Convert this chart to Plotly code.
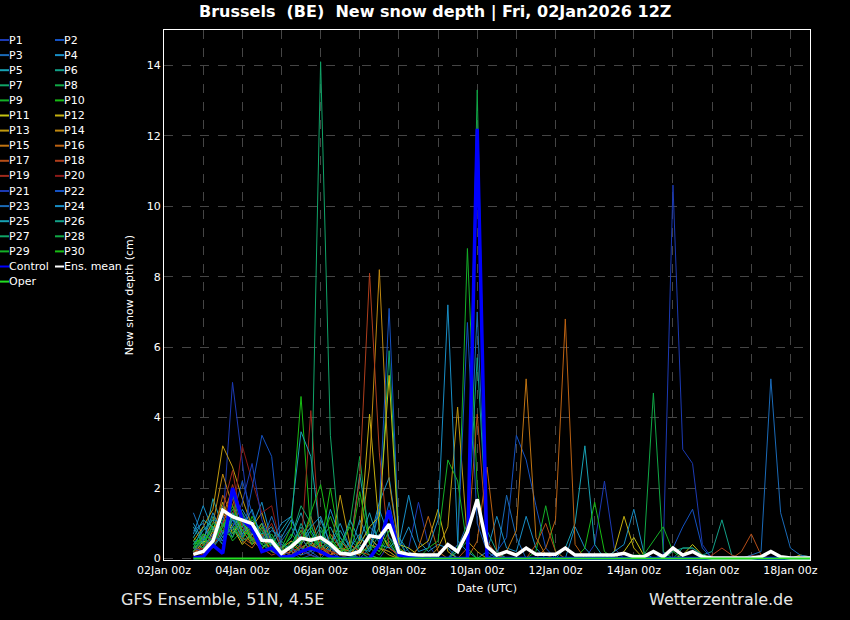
import pandas as pd
import plotly.graph_objs as go

# 6-hourly steps, 02Jan 18z .. 18Jan 12z
times = pd.date_range('2026-01-02 18:00', periods=64, freq='6h')

p01 = [0.4,0.8,1.1,1.0,5.0,2.8,0.5,0.9,0.3,0.1,0.2,0,0.1,0,0.3,0,
       0,0.2,0,0,0.4,0,0.3,1.6,0.4,0,0,0,0,0,0,0,
       0,0,0,0,0,0,0,0,0,0.4,2.2,0.3,0,0,0,0,
       0,0,0,0,0,0,0,0,0,0,0,0,0,0,0,0]
p02 = [0.2,0.5,0.9,0.6,1.2,2.2,1.3,0.6,0.4,0.1,0,0.2,0.1,0,0,0,
       0,0,0.3,1.5,7.1,0.6,0,0,0,0,0,0,0,0,0,0.2,
       0.6,3.5,2.8,1.5,0.3,0,0,0,0,0,0,0,0,0,0,0,
       0,0,0,0,0,0,0,0,0,0,0,0,0,0,0,0]
p03 = [1.3,0.6,0.3,0.7,1.8,1.0,0.7,0.4,0.2,0.5,0.9,0.3,0.1,0.4,0.2,0,
       0,0.4,0.9,0.6,1.2,0.2,0,0,0,0,0,0.3,1.0,7.0,0.4,0,
       1.8,0.6,0,0,0,0,0,0,0,0,0,0,0,0,0,0,
       0,0,0,0,0,0,0,0,0,0,0,0,0,0,0,0]
p04 = [0.7,1.5,0.8,1.2,0.6,1.4,0.9,1.6,0.5,1.0,1.2,0.4,0.8,0.3,1.4,0.6,
       0.2,1.1,0.5,1.6,2.3,0.4,1.8,0.5,0.2,0.4,0.3,0,0,0,0.2,1.2,
       0.3,0.2,1.2,0.3,0,0,0,0.9,0.3,0,0,0,0,0,0,0,
       0,0,0,0,0,0,0,0,0,0,0,0,0,0,0,0]
p05 = [0.9,0.4,1.7,0.9,1.3,0.8,1.0,0.7,0.9,0.3,0.6,1.3,0.5,1.1,0.4,0.8,
       0.3,2.4,0.6,0.3,1.0,0.2,0.1,0,0,0,0,0,0,0,0,0,
       0,0,0,0,0,0,0.3,1.0,3.2,0.4,0,0,0,0,0,0,
       0,0,0,0,0,0,0,0,0,0,0,0,0,0,0,0]
p06 = [0.3,0.9,0.6,1.5,0.8,1.0,0.5,0.3,0.6,0.2,0.4,0.9,0.3,0.6,0.2,0.1,
       0.5,0.3,0.2,0.7,0.4,0.1,0,0,0,0,0,0,0,0,0,0,
       0,0,0,0,0,0,0,0,0,0,0,0,0,0,0,0,
       0,0,0.3,0.3,0.1,0.2,1.1,0.1,0,0,0,0,0,0,0,0]
p07 = [0.5,0.3,1.2,0.7,1.9,0.6,1.1,0.8,0.3,0.4,0.2,0.7,1.0,0.2,0.5,0.1,
       0,0.6,0.3,0.9,5.9,0.5,0,0,0,0,0,0,0,0,0,0,
       0,0,0,0,0,0,0,0,0,0,0,0,0,0,0,0,
       0,0,0,0,0,0,0,0,0,0,0,0,0,0,0,0]
p08 = [0.2,0.7,0.5,0.9,1.4,0.7,0.9,0.4,0.2,0.1,0.5,0.3,0.2,0.8,0.3,0.2,
       1.0,2.9,0.4,0.2,0.6,0.1,0,0,0,0,0,0.2,0.5,13.3,0.3,0.1,
       0,0,0,0,0,0,0,0,0,0,0,0,0,0,0,0,
       0,0,0,0,0,0,0,0,0,0,0,0,0,0,0,0]
p09 = [0.6,0.4,0.9,1.1,0.5,0.8,0.6,0.4,0.7,0.2,0.3,0.5,0.9,0.4,0.6,0.2,
       0.3,0.1,0.4,0.3,0.2,0,0,0,0,0,0,0.3,8.8,2.0,0.2,0,
       0,0,0,0.2,1.5,0.2,0,0,0,0,0,0,0,0,0,0,
       0,0,0,0,0,0,0,0,0,0,0,0,0,0,0,0]
p10 = [0.4,0.6,0.3,0.8,1.0,0.5,1.2,0.6,0.4,0.3,0.9,4.6,0.7,0.3,2.0,0.4,
       0.1,0.2,0.3,0.1,0.5,0,0,0,0,0,0,0,0,0,0,0,
       0,0,0,0,0,0,0,0,0.3,1.6,0.2,0,0,0,0,0,
       0,0,0,0,0,0,0,0,0,0,0,0,0,0,0,0]
p11 = [0.1,0.5,0.4,1.3,0.9,0.4,0.7,0.3,0.5,0.1,0.2,0.1,0.4,0.2,0.1,0.3,
       0.2,0.4,0.9,1.2,5.2,0.4,0.3,0.1,0,0,0,0,0,0,0,0,
       0,0,0,0,0,0,0,0,0,0,0,0,0.2,0.6,0.1,0,
       0,0,0.1,0.4,0.1,0,0,0,0,0,0,0,0,0,0.1,0.05]
p12 = [0.3,0.2,0.8,1.6,0.7,1.1,0.5,1.0,0.3,0.2,0.1,0.3,0.5,0.1,0.4,0.2,
       0.1,0.5,4.1,0.8,0.3,0.1,0,0.3,0.5,1.4,0.2,0,0,0,0,0,
       0,0,0,0,0,0,0,0,0,0,0,0.2,1.2,0.3,0,0,
       0,0,0,0,0,0,0,0,0,0,0,0,0,0,0,0]
p13 = [0.5,0.9,1.4,3.2,2.6,1.7,0.9,1.3,0.4,0.3,0.5,0.2,0.6,0.3,0.2,1.8,
       0.4,0.2,0.6,0.3,0.1,0,0,0,0,0.3,0.9,4.3,0.5,0.2,0,0,
       0,0,0,0,0,0,0,0,0,0,0,0,0,0,0,0,
       0,0,0,0,0,0,0,0,0,0,0,0,0,0,0,0]
p14 = [0.2,0.6,1.0,2.4,1.5,0.8,0.4,0.6,0.2,0.1,0.3,0.6,0.2,0.4,0.1,0.3,
       0.1,0.5,2.6,8.2,2.2,0.3,0.1,0,0,0,0,0,0,0,0,0,
       0,0,0,0,0,0,0,0,0,0,0,0,0,0,0,0,
       0,0,0,0,0,0,0,0,0,0,0,0,0,0,0,0]
p15 = [0.3,0.2,0.7,1.2,2.0,0.9,0.6,0.2,0.3,0.1,0.2,0.8,0.4,0.2,0.1,0.5,
       0.2,0.1,0.4,0.3,0.2,0,0,0,0,0,0,0,0,0,0,0,
       0.2,0.8,5.1,0.6,0.1,0,0,0,0,0,0,0,0,0,0,0,
       0,0,0,0,0,0,0,0,0,0,0,0,0,0,0,0]
p16 = [0.1,0.4,0.6,1.8,1.2,0.5,0.3,0.7,0.2,0.3,0.1,0.4,1.2,0.3,0.1,0.2,
       0.4,0.2,0.1,0,0,0,0,0.3,1.2,0.2,0,0,0,0.5,2.6,0.2,
       0,0,0,0,0.3,1.1,6.8,0.4,0,0,0,0,0,0,0,0,
       0,0,0,0,0,0,0,0,0,0,0,0,0,0,0,0]
p17 = [0.2,0.3,0.5,1.0,1.7,0.6,0.4,0.9,0.3,0.2,0.1,0.3,0.5,0.2,0.7,0.3,
       0.1,0,0,0,0,0,0,0,0,0,0,0,0.3,4.1,0.5,0.1,
       0,0,0,0.4,1.0,0.2,0,0,0,0,0,0,0,0,0,0,
       0,0,0,0,0,0,0,0,0.2,0.7,0.1,0,0,0,0,0]
p18 = [0.1,0.4,0.3,0.9,2.1,1.2,0.6,0.3,0.1,0.2,0.3,0.2,0.4,0.1,0.2,0.1,
       0.3,2.3,8.1,3.0,0.3,0.1,0,0,0,0,0,0,0,0,0,0,
       0,0,0,0,0,0,0,0,0,0,0,0,0,0,0,0,
       0,0,0,0,0,0.1,0.3,0.1,0,0,0,0,0,0,0,0]
p19 = [0.2,0.1,0.6,1.4,2.5,0.9,0.5,0.6,1.0,0.3,0.2,0.3,4.2,0.3,0.2,0.1,
       0,0,0,0,0,0,0,0,0,0,0,0,0,0,0,0,
       0,0,0,0,0,0,0,0,0,0,0,0,0,0,0,0,
       0,0,0,0,0,0,0,0,0,0.1,0,0,0,0,0,0]
p20 = [0.1,0.3,0.4,0.8,1.1,3.2,2.2,1.3,1.5,0.3,0.1,0.2,0.1,0,0,0,
       0,0,0,0,0,0,0,0,0,0,0,0,0,0,0,0,
       0,0,0,0,0,0,0,0,0,0,0,0,0,0,0,0,
       0,0,0,0,0,0,0,0,0,0,0,0,0,0,0,0]
p21 = [0.3,0.2,0.6,0.5,0.9,1.6,2.7,1.1,0.4,0.2,0.1,0.3,0.1,0,0,0,
       0,0,0,0,0,0,0,0,0,0,0,0,0,0,0,0,
       0,0,0,0,0,0,0,0,0,0,0,0,0,0,0,0,
       0.1,10.6,3.1,2.7,0.4,0,0,0,0,0,0,0,0,0,0,0]
p22 = [0.5,0.3,0.7,0.4,1.1,0.6,2.0,3.5,2.9,0.2,0.3,0.1,0.2,0,0,0,
       0,0,0,0,0,0,0,0,0,0,0,0.4,6.7,1.0,0.2,0,
       0,0,0,0,0,0,0,0,0,0,0,0,0,0,0,0,
       0.1,0.3,0.9,1.4,0.3,0,0,0,0,0,0,0,0,0,0,0]
p23 = [0.8,1.0,0.4,0.6,0.9,1.3,0.8,0.5,1.2,0.4,0.3,0.6,0.2,0.5,0.3,0.1,
       0.2,0,0,0.4,1.6,0.3,0,0,0,0,0,0,0,0,0,0,
       0,0,0,0,0,0,0,0,0,0,0,0,0,0,0,0,
       0,0,0,0,0,0,0,0,0,0.1,0.2,5.1,1.3,0.3,0.1,0.05]
p24 = [1.0,0.5,1.3,0.7,1.1,0.9,1.4,0.5,0.8,0.6,1.1,0.5,0.9,1.2,0.4,1.0,
       0.3,0.7,0.2,1.4,0.6,0.3,0.9,0.2,0.3,1.1,7.2,0.5,0.2,0,0,0,
       0,0,0,0,0,0,0,0,0,0,0,0.2,0.4,1.4,0.2,0,
       0,0,0,0,0,0,0,0,0,0,0,0,0,0,0,0]
p25 = [0.6,1.1,0.9,0.5,1.3,0.7,1.0,0.6,0.4,0.8,1.2,3.6,2.9,0.6,0.9,0.3,
       1.1,0.5,1.3,0.4,0.3,0.6,0.2,0,0,0,0,0,0,0,0,0,
       0,0,0,0,0,0,0,0,0,0,0,0,0,0,0,0,
       0,0,0,0,0,0,0,0,0,0,0,0,0,0,0,0]
p26 = [0.4,0.8,1.1,0.6,0.9,0.5,0.7,1.0,0.3,0.5,0.2,1.0,0.4,0.9,0.3,0.6,
       0.2,0.4,0.1,0,0,0,0,0,0,0,0,0.2,0.7,5.7,0.8,0.2,
       0,0,0,0,0,0,0,0,0,0,0,0,0,0,0,0,
       0,0.2,0.3,0.3,0.1,0,0,0,0,0,0,0,0,0,0,0]
p27 = [0.3,0.5,0.8,0.4,1.2,0.6,0.9,0.5,0.2,0.3,0.6,1.5,1.0,14.1,3.5,0.3,
       0.1,0,0,0,0,0,0,0,0,0,0,0,0,0,0,0,
       0,0,0,0,0,0,0,0,0,0,0,0,0,0,0,0,
       0,0,0,0,0,0,0,0,0,0,0,0,0,0,0,0]
p28 = [0.2,0.6,0.4,1.0,0.7,1.3,0.5,0.8,0.3,0.1,0.4,0.2,0.6,0.3,0.5,0.2,
       0.1,0,0,0,0,0,0,0,0,0,0,0,0,0,0,0,
       0,0,0,0,0,0,0,0,0,0,0,0,0,0.1,0.1,4.7,
       0.2,0,0,0,0,0,0,0,0,0,0,0,0,0,0,0]
p29 = [0.5,0.3,1.0,0.8,0.6,1.1,0.4,0.9,0.6,0.2,0.4,0.8,0.3,0.5,1.2,0.4,
       0.9,0.2,0,0,0,0,0,0,0.3,0.5,2.8,2.2,0.3,0,0,0,
       0,0,0,0,0,0,0,0,0,0,0,0,0,0,0.1,0.5,
       0.9,0.2,0,0,0,0,0,0,0,0,0,0,0,0,0,0]
p30 = [0.3,0.7,0.5,0.9,1.5,0.8,0.6,0.3,0.5,0.2,0.7,0.4,1.3,2.1,0.6,0.2,
       0.3,1.9,0.4,0.2,0.8,0.3,0,0,0,0,0,0,0,0,0,0,
       0,0,0,0,0,0,0,0,0,0,0,0,0,0,0,0,
       0,0,0,0,0,0,0,0,0,0,0,0,0,0,0,0]

control = [0.02,0.05,0.38,0.15,2.0,1.1,0.85,0.2,0.3,0.05,0.05,0.2,0.3,0.2,0.05,0,
           0,0,0,0.4,1.37,0.1,0.05,0,0,0,0,0,0,12.2,0,0,
           0,0,0,0,0,0,0,0,0,0,0,0,0,0,0,0,
           0,0,0,0,0,0,0,0,0,0,0,0,0,0,0,0]
ens_mean = [0.12,0.2,0.5,1.37,1.19,1.08,0.99,0.52,0.5,0.15,0.34,0.58,0.52,0.6,0.41,0.15,
            0.12,0.2,0.65,0.6,0.97,0.18,0.12,0.1,0.1,0.1,0.4,0.2,0.76,1.68,0.34,0.1,
            0.2,0.1,0.3,0.12,0.12,0.12,0.3,0.1,0.1,0.1,0.1,0.1,0.15,0.05,0.05,0.2,
            0.05,0.3,0.1,0.2,0.05,0.02,0.02,0.02,0.02,0.02,0.05,0.2,0.05,0.02,0.02,0.02]
oper = [0,0,0,0,0,0,0,0,0,0,0,0,0,0,0,0,
        0,0,0,0,0,0,0,0,0,0,0,0,0,0,0,0,
        0,0,0,0,0,0,0,0,0,0,0,0,0,0,0,0,
        0,0,0,0,0,0,0,0,0,0,0,0,0,0,0,0]

members = [p01,p02,p03,p04,p05,p06,p07,p08,p09,p10,p11,p12,p13,p14,p15,
           p16,p17,p18,p19,p20,p21,p22,p23,p24,p25,p26,p27,p28,p29,p30]
member_names = ['P%d' % (k + 1) for k in range(30)]

# colour cycle used by the site (repeats every 20 members)
palette = ['#1c3ab4','#1452c2','#1a6ab8','#188ec6','#18a2b4','#12a088','#10a468',
           '#10a846','#14b028','#18bc14','#c4c412','#c4b010','#c09a10','#c08810',
           '#c07412','#bc6212','#b64e18','#b03e1c','#a02a1c','#8c1a18']

for k in range(30):
    assert len(members[k]) == 64, member_names[k]

fig = go.Figure()

for k, vals in enumerate(members):
    fig.add_trace(go.Scatter(x=times, y=vals, mode='lines', name=member_names[k],
                             line=dict(color=palette[k % 20], width=1),
                             showlegend=False))

fig.add_trace(go.Scatter(x=times, y=control, mode='lines', name='Control',
                         line=dict(color='#0000ff', width=3.5), showlegend=False))
fig.add_trace(go.Scatter(x=times, y=ens_mean, mode='lines', name='Ens. mean',
                         line=dict(color='#ffffff', width=3.5), showlegend=False))
fig.add_trace(go.Scatter(x=times, y=oper, mode='lines', name='Oper',
                         line=dict(color='#22dd22', width=2), showlegend=False))

# plot area in pixels: x 164..810, y 30..560
def px(xp):
    return (xp - 164) / 646.0

def py(yp):
    return (560 - yp) / 530.0

FONT = 'DejaVu Sans'
shapes = []
annotations = []

# hand-built two column legend
col1 = [(member_names[k], palette[k % 20]) for k in range(0, 30, 2)]
col1 += [('Control', '#0000ff'), ('Oper', '#22dd22')]
col2 = [(member_names[k], palette[k % 20]) for k in range(1, 30, 2)]
col2 += [('Ens. mean', '#ffffff')]

for col, x0 in ((col1, 0), (col2, 55)):
    for r, (lab, colr) in enumerate(col):
        yy = 40 + 15.1 * r
        shapes.append(dict(type='line', xref='paper', yref='paper',
                           x0=px(x0), x1=px(x0 + 9), y0=py(yy), y1=py(yy),
                           line=dict(color=colr, width=2)))
        annotations.append(dict(text=lab, xref='paper', yref='paper',
                                x=px(x0 + 7), y=py(yy), xanchor='left', yanchor='middle',
                                showarrow=False, font=dict(family=FONT, size=11, color='white')))

annotations.append(dict(text='GFS Ensemble, 51N, 4.5E', xref='paper', yref='paper',
                        x=px(119), y=py(599), xanchor='left', yanchor='middle', showarrow=False,
                        font=dict(family=FONT, size=16, color='#e6e6e6')))
annotations.append(dict(text='Wetterzentrale.de', xref='paper', yref='paper',
                        x=px(795), y=py(599), xanchor='right', yanchor='middle', showarrow=False,
                        font=dict(family=FONT, size=16, color='#e6e6e6')))

fig.update_layout(
    width=850, height=620,
    paper_bgcolor='black', plot_bgcolor='black',
    margin=dict(l=164, r=40, t=30, b=60),
    font=dict(family=FONT, size=11, color='white'),
    title=dict(text='Brussels\u00a0 (BE)\u00a0 New snow depth | Fri, 02Jan2026 12Z',
               x=0.512, xanchor='center', y=0.981, yanchor='middle',
               font=dict(family=FONT, size=16, color='white', weight='bold')),
    shapes=shapes,
    annotations=annotations,
    showlegend=False,
)

fig.update_xaxes(
    type='date', range=['2026-01-02 00:00', '2026-01-18 12:00'],
    tick0='2026-01-02', dtick=2 * 86400000, tickformat='%d%b %Hz',
    showgrid=True, gridcolor='#454545', griddash='dash', gridwidth=1,
    minor=dict(dtick=86400000, showgrid=True, gridcolor='#454545', griddash='dash'),
    showline=True, linecolor='white', linewidth=1, mirror=True,
    ticks='', tickfont=dict(size=11, color='white'),
    title=dict(text='Date (UTC)', standoff=8, font=dict(size=11, color='white')),
    zeroline=False,
)
fig.update_yaxes(
    range=[-0.04, 15], tick0=0, dtick=2,
    showgrid=True, gridcolor='#454545', griddash='dash', gridwidth=1,
    showline=True, linecolor='white', linewidth=1, mirror=True,
    ticks='', tickfont=dict(size=11, color='white'),
    title=dict(text='New snow depth (cm)', standoff=10, font=dict(size=11, color='white')),
    zeroline=False,
)

# the page must not add its default 8px body margin around the figure
fig.write_html("out.html", config={'displayModeBar': False},
               post_script="document.body.style.margin='0';document.body.style.background='black';")
